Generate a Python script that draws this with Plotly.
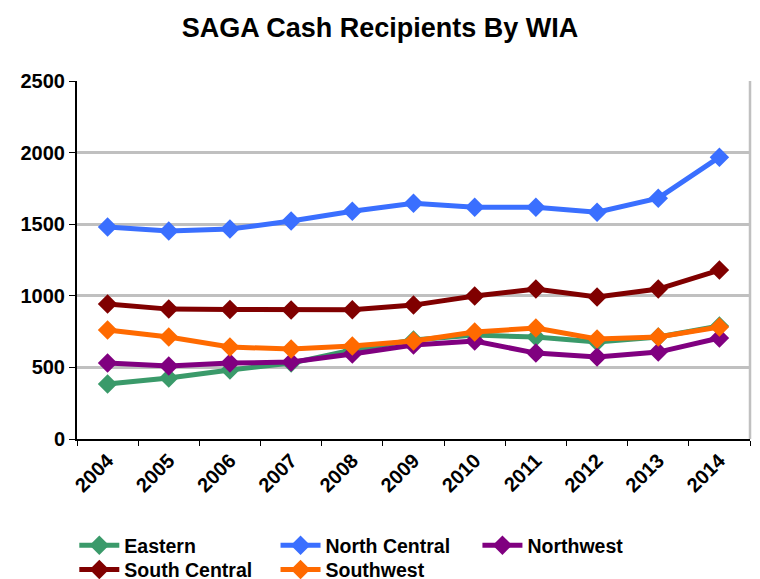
import plotly.graph_objects as go

years = ["2004", "2005", "2006", "2007", "2008", "2009", "2010", "2011", "2012", "2013", "2014"]
eastern = [384, 426, 482, 530, 621, 691, 726, 712, 677, 712, 789]
north_central = [1480, 1452, 1466, 1522, 1591, 1647, 1619, 1619, 1584, 1682, 1968]
northwest = [530, 509, 530, 537, 593, 656, 684, 600, 572, 607, 705]
south_central = [942, 907, 905, 900, 903, 935, 998, 1047, 991, 1047, 1180]
southwest = [761, 712, 642, 628, 649, 684, 747, 775, 698, 712, 782]

series = [
    ("Eastern", eastern, "#3a9a6a"),
    ("North Central", north_central, "#3a6fff"),
    ("Northwest", northwest, "#800080"),
    ("South Central", south_central, "#800000"),
    ("Southwest", southwest, "#ff6a00"),
]

# legend slot (column, row) for each series
legend_x = [-0.004, 0.295, 0.595, -0.004, 0.295]
legend_y = [-0.243, -0.243, -0.243, -0.311, -0.311]

FONT = "Liberation Sans, Arial, sans-serif"

fig = go.Figure()
legends = {}
for i, (name, vals, color) in enumerate(series):
    lg = "legend" if i == 0 else f"legend{i + 1}"
    fig.add_trace(go.Scatter(
        x=years, y=vals, name=name, mode="lines+markers", legend=lg,
        line=dict(color=color, width=5),
        marker=dict(symbol="diamond", size=15, color=color),
    ))
    legends[lg] = dict(orientation="h", xanchor="left", yanchor="top",
                       x=legend_x[i], y=legend_y[i],
                       font=dict(family=FONT, size=19.5, color="black", weight="bold"),
                       itemwidth=40, bgcolor="rgba(0,0,0,0)")

fig.update_layout(
    width=760, height=579,
    paper_bgcolor="white", plot_bgcolor="white",
    margin=dict(l=77, r=10, t=81, b=140, autoexpand=False),
    title=dict(text="<b>SAGA Cash Recipients By WIA</b>", x=0.5, xanchor="center",
               y=0.953, yanchor="middle",
               font=dict(family=FONT, size=27, color="black")),
    font=dict(family=FONT, color="black"),
    showlegend=True,
    **legends,
)

fig.update_xaxes(
    type="category", range=[-0.5, 10.5], automargin=False,
    showline=True, linecolor="black", linewidth=2,
    ticks="outside", tickson="boundaries", ticklen=5, tickcolor="black",
    tickangle=-45, showgrid=False,
    tickfont=dict(family=FONT, size=20, color="black", weight="bold"),
)
fig.update_yaxes(
    range=[0, 2500], dtick=500, automargin=False,
    showline=True, linecolor="black", linewidth=2,
    ticks="outside", ticklen=6, tickcolor="black",
    showgrid=True, gridcolor="#c0c0c0", gridwidth=2.5,
    zeroline=False,
    tickfont=dict(family=FONT, size=20, color="black", weight="bold"),
)

fig.add_shape(type="line", xref="paper", yref="paper", x0=1, x1=1, y0=0, y1=1,
              line=dict(color="#c0c0c0", width=2.5))

fig.write_html("out.html", config={"displayModeBar": False},
               post_script="document.body.style.margin='0px';document.body.style.overflow='hidden';")
